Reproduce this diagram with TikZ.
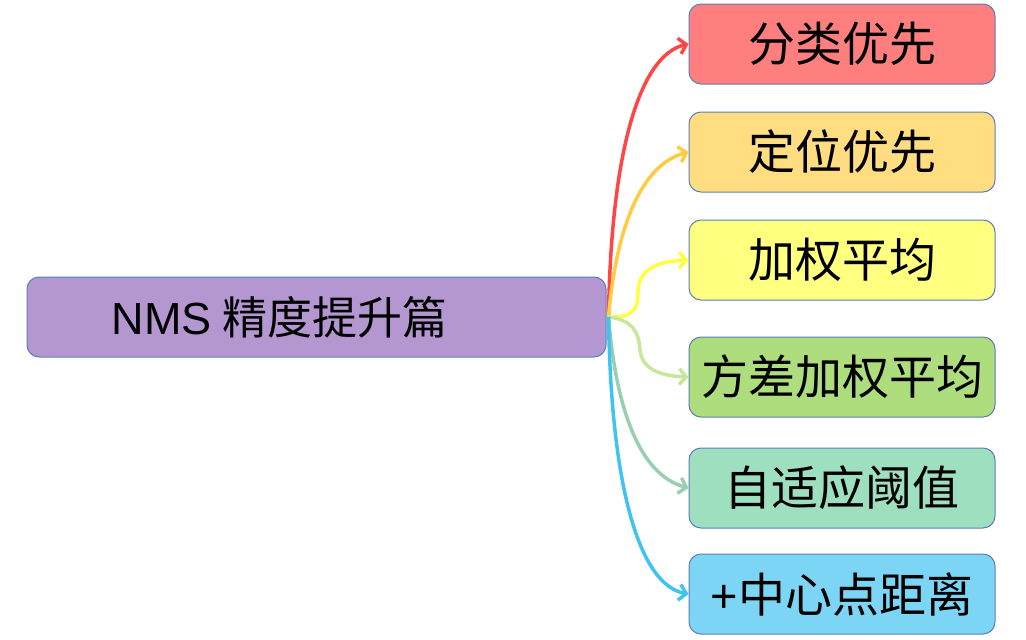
\documentclass[tikz,border=0pt]{standalone}
\usepackage{fontspec}
\setmainfont{Noto Sans CJK SC}
\newfontfamily\latinsans{Liberation Sans}
\usetikzlibrary{arrows.meta}

\definecolor{edgeblue}{HTML}{5B7DB8}
\definecolor{mainfill}{HTML}{B497D0}
\definecolor{fillA}{HTML}{FF7F7F}
\definecolor{fillB}{HTML}{FFDD80}
\definecolor{fillC}{HTML}{FFFF80}
\definecolor{fillD}{HTML}{AEDD7E}
\definecolor{fillE}{HTML}{9EDFC0}
\definecolor{fillF}{HTML}{7DD5F5}
\definecolor{lineA}{HTML}{FF4545}
\definecolor{lineB}{HTML}{FFCB40}
\definecolor{lineC}{HTML}{FFFF40}
\definecolor{lineD}{HTML}{C8E69C}
\definecolor{lineE}{HTML}{98CFB0}
\definecolor{lineF}{HTML}{3FC3F0}

\begin{document}
\begin{tikzpicture}[x=1pt, y=-1pt,
    every node/.style={font=\fontsize{47}{52}\selectfont},
    topic/.style={draw=edgeblue, line width=1pt, rounded corners=12pt,
                  minimum width=306pt, minimum height=80pt, inner sep=0pt},
    link/.style={line width=3.5pt, -{Straight Barb[length=7pt,width=16pt]}}]
  \useasboundingbox (0,0) rectangle (1026,640);
  % root of the mind map
  \node[topic, fill=mainfill, minimum width=579pt, font=\fontsize{45}{50}\selectfont]
        (root) at (316.5,317) {{\latinsans NMS} 精度提升篇\hspace*{74pt}};
  % branches
  \node[topic, fill=fillA] (cls)  at (842,44)  {分类优先};
  \node[topic, fill=fillB] (loc)  at (842,152) {定位优先};
  \node[topic, fill=fillC] (wavg) at (842,260) {加权平均};
  \node[topic, fill=fillD] (vavg) at (842,377) {方差加权平均};
  \node[topic, fill=fillE] (adapt) at (842,488) {自适应阈值};
  \node[topic, fill=fillF] (dist) at (842,594) {{\latinsans +}中心点距离};
  \coordinate (o) at ([xshift=2pt]root.east);
  % connectors
  \draw[link, lineA] (o) .. controls (611,150) and (640,55) .. (cls.west);
  \draw[link, lineB] (o) .. controls (616,230) and (640,165) .. (loc.west);
  \draw[link, lineC] (o) .. controls (636,318) and (638,306) .. (638,292)
                         .. controls (638,268) and (660,261) .. (wavg.west);
  \draw[link, lineD] (o) .. controls (634,320) and (639,334) .. (640,350)
                         .. controls (642,370) and (662,376) .. (vavg.west);
  \draw[link, lineE] (o) .. controls (616,410) and (640,475) .. (adapt.west);
  \draw[link, lineF] (o) .. controls (611,490) and (640,585) .. (dist.west);
\end{tikzpicture}
\end{document}
